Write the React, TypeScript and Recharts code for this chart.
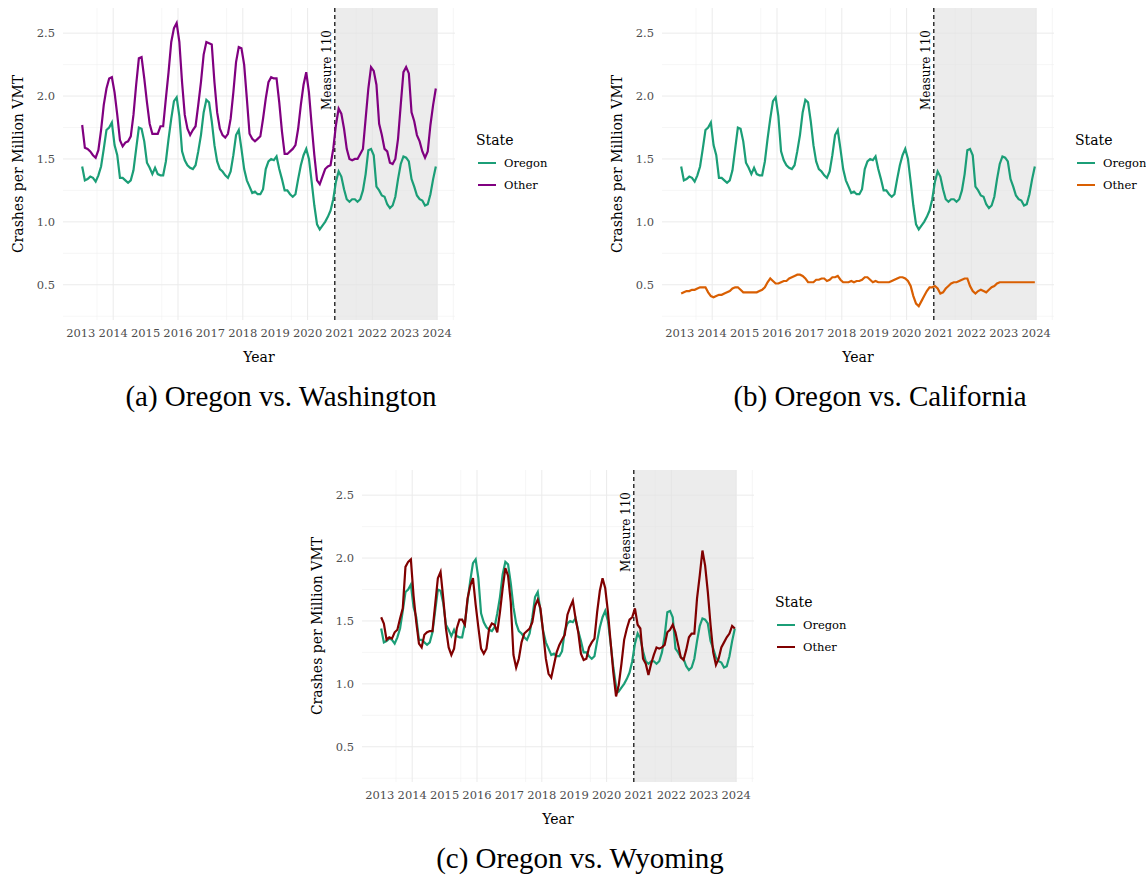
import {
  CartesianGrid,
  Line,
  LineChart,
  ReferenceArea,
  ReferenceLine,
  XAxis,
  YAxis,
} from "recharts";

// monthly crashes per million VMT, Jan 2013 .. Dec 2023
const oregon = [
  1.44, 1.33, 1.34, 1.36, 1.35, 1.32, 1.37, 1.44, 1.58, 1.73, 1.75, 1.79,
  1.61, 1.53, 1.35, 1.35, 1.33, 1.31, 1.33, 1.41, 1.58, 1.75, 1.74, 1.64,
  1.47, 1.43, 1.38, 1.43, 1.38, 1.37, 1.37, 1.48, 1.66, 1.82, 1.96, 1.99,
  1.84, 1.56, 1.49, 1.45, 1.43, 1.42, 1.45, 1.56, 1.69, 1.87, 1.97, 1.95,
  1.8, 1.61, 1.48, 1.42, 1.4, 1.37, 1.35, 1.4, 1.53, 1.69, 1.73, 1.58,
  1.42, 1.33, 1.28, 1.23, 1.24, 1.22, 1.22, 1.26, 1.42, 1.48, 1.5, 1.49,
  1.52, 1.42, 1.34, 1.25, 1.25, 1.22, 1.2, 1.22, 1.34, 1.45, 1.53, 1.58,
  1.5, 1.32, 1.13, 0.98, 0.94, 0.97, 1.0, 1.04, 1.09, 1.18, 1.32, 1.4,
  1.36, 1.26, 1.18, 1.16, 1.18, 1.18, 1.16, 1.18, 1.25, 1.38, 1.57, 1.58,
  1.53, 1.28, 1.25, 1.21, 1.2, 1.14, 1.11, 1.13, 1.2, 1.34, 1.46, 1.52,
  1.51, 1.48, 1.34, 1.28, 1.21, 1.18, 1.17, 1.13, 1.14, 1.22, 1.34, 1.44,
];

const washington = [
  1.77, 1.59, 1.58, 1.56, 1.53, 1.51, 1.57, 1.73, 1.93, 2.06, 2.14, 2.15,
  2.03, 1.85, 1.65, 1.6, 1.63, 1.64, 1.68, 1.85, 2.09, 2.3, 2.31, 2.14,
  1.95, 1.78, 1.7, 1.7, 1.7, 1.76, 1.76, 1.98, 2.19, 2.43, 2.54, 2.58,
  2.43, 2.11, 1.85, 1.74, 1.69, 1.73, 1.76, 1.93, 2.11, 2.33, 2.43, 2.42,
  2.41, 2.11, 1.87, 1.74, 1.69, 1.67, 1.7, 1.82, 2.03, 2.27, 2.39, 2.38,
  2.25, 1.98, 1.7, 1.66, 1.64, 1.66, 1.68, 1.82, 1.98, 2.11, 2.15, 2.14,
  2.14, 1.95, 1.72, 1.54, 1.54, 1.56, 1.58, 1.61, 1.74, 1.93, 2.09, 2.19,
  2.03, 1.77, 1.53, 1.33, 1.3, 1.36, 1.42, 1.44, 1.45, 1.58, 1.77, 1.9,
  1.86, 1.74, 1.58, 1.5, 1.49, 1.5, 1.5, 1.54, 1.58, 1.82, 2.06, 2.23,
  2.2, 2.09, 1.78, 1.69, 1.58, 1.56, 1.47, 1.46, 1.5, 1.66, 1.93, 2.19,
  2.23, 2.18, 1.87, 1.8, 1.69, 1.64, 1.56, 1.51, 1.56, 1.77, 1.93, 2.06,
];

const california = [
  0.43, 0.44, 0.45, 0.45, 0.46, 0.46, 0.47, 0.48, 0.48, 0.48, 0.44, 0.41,
  0.4, 0.41, 0.42, 0.42, 0.43, 0.44, 0.45, 0.47, 0.48, 0.48, 0.46, 0.44,
  0.44, 0.44, 0.44, 0.44, 0.44, 0.45, 0.46, 0.48, 0.52, 0.55, 0.53, 0.51,
  0.51, 0.52, 0.53, 0.53, 0.55, 0.56, 0.57, 0.58, 0.58, 0.57, 0.55, 0.52,
  0.52, 0.52, 0.54, 0.54, 0.55, 0.55, 0.53, 0.54, 0.56, 0.56, 0.57, 0.54,
  0.52, 0.52, 0.52, 0.53, 0.52, 0.53, 0.53, 0.54, 0.56, 0.56, 0.54, 0.52,
  0.53, 0.52, 0.52, 0.52, 0.52, 0.52, 0.53, 0.54, 0.55, 0.56, 0.56, 0.55,
  0.53, 0.49, 0.41, 0.35, 0.33, 0.37, 0.41, 0.45, 0.48, 0.48, 0.49, 0.47,
  0.43, 0.44, 0.47, 0.49, 0.51, 0.52, 0.52, 0.53, 0.54, 0.55, 0.55, 0.49,
  0.45, 0.43, 0.45, 0.46, 0.45, 0.44, 0.46, 0.48, 0.49, 0.51, 0.52, 0.52,
  0.52, 0.52, 0.52, 0.52, 0.52, 0.52, 0.52, 0.52, 0.52, 0.52, 0.52, 0.52,
];

const wyoming = [
  1.53, 1.48, 1.35, 1.37, 1.36, 1.41, 1.43, 1.52, 1.6, 1.93, 1.97, 1.99,
  1.7, 1.49, 1.32, 1.29, 1.39, 1.41, 1.42, 1.42, 1.63, 1.84, 1.89, 1.68,
  1.44, 1.29, 1.23, 1.28, 1.44, 1.51, 1.51, 1.47, 1.68, 1.78, 1.84, 1.63,
  1.45, 1.28, 1.24, 1.28, 1.44, 1.48, 1.47, 1.41, 1.57, 1.76, 1.92, 1.86,
  1.65, 1.23, 1.13, 1.2, 1.33, 1.4, 1.42, 1.44, 1.49, 1.62, 1.67, 1.6,
  1.41, 1.2, 1.08, 1.05, 1.15, 1.25, 1.31, 1.35, 1.39, 1.55, 1.61, 1.66,
  1.52, 1.41, 1.24, 1.19, 1.2, 1.29, 1.33, 1.36, 1.57, 1.74, 1.84, 1.76,
  1.57, 1.33, 1.09, 0.9, 0.99, 1.16, 1.35, 1.44, 1.51, 1.53, 1.6, 1.47,
  1.44, 1.2, 1.16, 1.07, 1.16, 1.23, 1.29, 1.28, 1.29, 1.31, 1.41, 1.43,
  1.47, 1.41, 1.31, 1.21, 1.19, 1.27, 1.37, 1.4, 1.4, 1.68, 1.86, 2.06,
  1.94, 1.73, 1.47, 1.25, 1.15, 1.2, 1.29, 1.33, 1.37, 1.4, 1.46, 1.44,
];

const START_YEAR = 2013;
const yearTicks = [2013, 2014, 2015, 2016, 2017, 2018, 2019, 2020, 2021, 2022, 2023, 2024];
const halfYears = [2012.5, 2013.5, 2014.5, 2015.5, 2016.5, 2017.5, 2018.5, 2019.5, 2020.5, 2021.5, 2022.5, 2023.5, 2024.5];
const yTicks = [0.5, 1, 1.5, 2, 2.5];
const yMinor = [0.25, 0.75, 1.25, 1.75, 2.25];
const MEASURE_110 = 2020.84; // Nov 2020 vote
const PERIOD_END = 2024;

const OREGON_COLOR = "#1b9e77";
const FONT = "'DejaVu Serif', serif";

function buildRows(other: number[]) {
  return oregon.map((v, i) => ({
    t: START_YEAR + (i + 0.5) / 12,
    oregon: v,
    other: other[i],
  }));
}

function MeasureLabel(props: any) {
  const vb = props.viewBox || {};
  const x = vb.x - 4;
  const y = vb.y + 22;
  return (
    <text
      x={x}
      y={y}
      transform={`rotate(-90, ${x}, ${y})`}
      textAnchor="end"
      fontSize={12}
      fontFamily={FONT}
      fill="#000"
    >
      Measure 110
    </text>
  );
}

function Panel({
  other,
  color,
  left,
  top,
  caption,
}: {
  other: number[];
  color: string;
  left: number;
  top: number;
  caption: string;
}) {
  const rows = buildRows(other);
  return (
    <>
      <div style={{ position: "absolute", left, top }}>
        <LineChart
          width={455}
          height={368}
          data={rows}
          margin={{ top: 8, right: 0, bottom: 0, left: 0 }}
        >
          <CartesianGrid
            stroke="#f0f0f0"
            strokeWidth={0.6}
            horizontalValues={yMinor}
            verticalValues={halfYears}
          />
          <CartesianGrid
            stroke="#ebebeb"
            strokeWidth={1}
            horizontalValues={yTicks}
            verticalValues={yearTicks}
          />
          <ReferenceArea
            x1={MEASURE_110}
            x2={PERIOD_END}
            fill="#e2e2e2"
            fillOpacity={0.65}
            stroke="none"
            ifOverflow="visible"
          />
          <XAxis
            dataKey="t"
            type="number"
            domain={[2012.45, 2024.55]}
            ticks={yearTicks}
            allowDataOverflow
            axisLine={false}
            tickLine={false}
            tickMargin={3}
            height={48}
            tick={{ fontSize: 11.5, fill: "#4d4d4d", fontFamily: FONT }}
            label={{
              value: "Year",
              position: "insideBottom",
              offset: 6,
              style: { fontSize: 14, fill: "#000", fontFamily: FONT },
            }}
          />
          <YAxis
            type="number"
            domain={[0.22, 2.7]}
            ticks={yTicks}
            allowDataOverflow
            width={63}
            axisLine={false}
            tickLine={false}
            tickFormatter={(v: number) => v.toFixed(1)}
            tick={{ fontSize: 11.5, fill: "#4d4d4d", fontFamily: FONT }}
            label={{
              value: "Crashes per Million VMT",
              angle: -90,
              position: "insideLeft",
              offset: 18,
              style: { textAnchor: "middle", fontSize: 14, fill: "#000", fontFamily: FONT },
            }}
          />
          <ReferenceLine
            x={MEASURE_110}
            stroke="#000"
            strokeWidth={1.2}
            strokeDasharray="4 3"
            label={<MeasureLabel />}
          />
          <Line
            type="linear"
            dataKey="oregon"
            stroke={OREGON_COLOR}
            strokeWidth={2.2}
            dot={false}
            isAnimationActive={false}
          />
          <Line
            type="linear"
            dataKey="other"
            stroke={color}
            strokeWidth={2.2}
            dot={false}
            isAnimationActive={false}
          />
        </LineChart>
      </div>
      <div
        style={{
          position: "absolute",
          left: left + 476,
          top: top + 130,
          fontFamily: FONT,
          color: "#000",
        }}
      >
        <div style={{ fontSize: 14, lineHeight: "20px", marginBottom: 2 }}>State</div>
        {[
          { name: "Oregon", c: OREGON_COLOR },
          { name: "Other", c: color },
        ].map((it) => (
          <div
            key={it.name}
            style={{ display: "flex", alignItems: "center", height: 22, fontSize: 11.5 }}
          >
            <span
              style={{
                display: "inline-block",
                width: 18,
                height: 2.2,
                background: it.c,
                marginLeft: 2,
                marginRight: 8,
              }}
            />
            <span>{it.name}</span>
          </div>
        ))}
      </div>
      <div
        style={{
          position: "absolute",
          left: left + 281 - 250,
          width: 500,
          top: top + 380,
          textAlign: "center",
          fontFamily: "'Liberation Serif', serif",
          fontSize: 29,
          color: "#000",
        }}
      >
        {caption}
      </div>
    </>
  );
}

export default function App() {
  return (
    <div
      style={{
        position: "absolute",
        left: 0,
        top: 0,
        width: 1146,
        height: 876,
        background: "#fff",
      }}
    >
      <Panel other={washington} color="#800080" left={0} top={0} caption="(a) Oregon vs. Washington" />
      <Panel other={california} color="#d95f02" left={599} top={0} caption="(b) Oregon vs. California" />
      <Panel other={wyoming} color="#800000" left={299} top={462} caption="(c) Oregon vs. Wyoming" />
    </div>
  );
}
